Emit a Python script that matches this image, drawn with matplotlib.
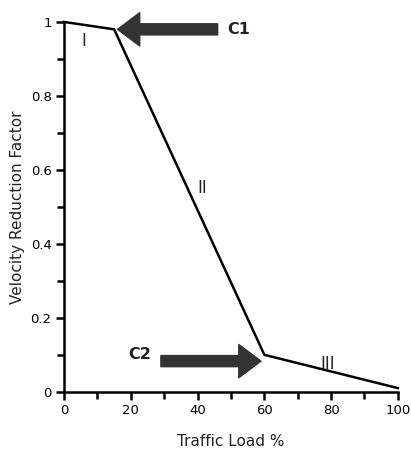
import numpy as np
import matplotlib.pyplot as plt
from matplotlib.ticker import MultipleLocator

# data
load = [0, 15, 60, 100]
factor = [1.0, 0.98, 0.10, 0.01]
x_ticks = [0, 20, 40, 60, 80, 100]
y_ticks = [0, 0.2, 0.4, 0.6, 0.8, 1]
y_labels = ['0', '0.2', '0.4', '0.6', '0.8', '1']
regions = ['I', 'II', 'III']
region_x = [6, 41.5, 79]
region_y = [0.948, 0.55, 0.075]

fig = plt.figure(figsize=(4.11, 4.67), dpi=100)
ax = fig.add_axes([0.156, 0.161, 0.812, 0.792])

ax.plot(load, factor, color='black', lw=1.8, clip_on=False, solid_joinstyle='miter')

ax.set_xlim(0, 100)
ax.set_ylim(0, 1)
ax.set_xticks(x_ticks)
ax.set_yticks(y_ticks, y_labels)
ax.xaxis.set_minor_locator(MultipleLocator(10))
ax.yaxis.set_minor_locator(MultipleLocator(0.1))
ax.spines['top'].set_visible(False)
ax.spines['right'].set_visible(False)
for s in ['left', 'bottom']:
    ax.spines[s].set_linewidth(1.8)
ax.tick_params(which='both', direction='out', width=1.8, labelsize=9.5, pad=3)
ax.tick_params(which='major', length=6)
ax.tick_params(which='minor', length=5)

ax.set_xlabel('Traffic Load %', fontsize=11, labelpad=12, color='#222222')
ax.set_ylabel('Velocity Reduction Factor', fontsize=11, labelpad=4, color='#222222')

for r, x, y in zip(regions, region_x, region_y):
    ax.text(x, y, r, fontsize=12, ha='center', va='center', color='#222222')

arrow = dict(arrowstyle='simple,head_length=1.6,head_width=2.4,tail_width=0.8',
             color='#333333', shrinkA=0, shrinkB=0)
ax.annotate('', xy=(16, 0.98), xytext=(46, 0.98), arrowprops=arrow)
ax.text(49, 0.98, 'C1', fontsize=11.5, fontweight='bold', va='center', color='#222222')
ax.annotate('', xy=(59, 0.083), xytext=(29, 0.083), arrowprops=arrow)
ax.text(26, 0.1, 'C2', fontsize=11.5, fontweight='bold', va='center', ha='right', color='#222222')

fig.savefig('out.png', dpi=100)
